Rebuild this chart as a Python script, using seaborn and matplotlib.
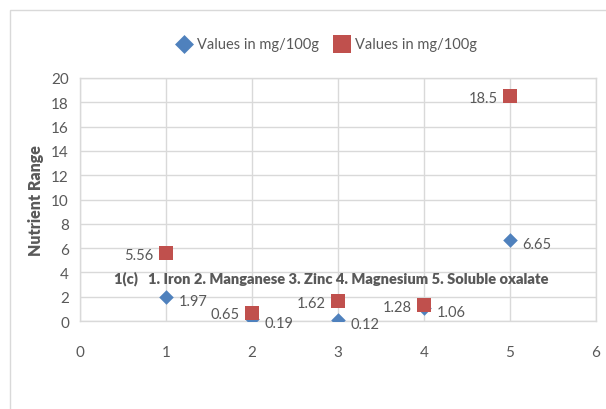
import matplotlib
matplotlib.use("Agg")
import matplotlib.pyplot as plt
import seaborn as sns
import pandas as pd
from matplotlib.patches import Rectangle

x_vals = [1, 2, 3, 4, 5]
series1 = [1.97, 0.19, 0.12, 1.06, 6.65]
series2 = [5.56, 0.65, 1.62, 1.28, 18.5]
series_names = ["Values in mg/100g", "Values in mg/100g"]
title_text = "1(c)   1. Iron 2. Manganese 3. Zinc 4. Magnesium 5. Soluble oxalate"
y_label = "Nutrient Range"
x_ticks = [0, 1, 2, 3, 4, 5, 6]
y_ticks = list(range(0, 21, 2))

sns.set_theme(style="white")
plt.rcParams['font.family'] = ['Lato', 'DejaVu Sans']

grey = "#595959"
blue = "#4F81BD"
red = "#C0504D"

fig = plt.figure(figsize=(6.06, 4.10), dpi=100)
ax = fig.add_axes([80/606, 1-322/410, 516/606, 243/410])

# chart border
fig.patches.append(Rectangle((10/606, -0.1), 1.2, 1-11/410+0.1, transform=fig.transFigure,
                             fill=False, edgecolor="#D9D9D9", linewidth=1.0, zorder=0))

df1 = pd.DataFrame({"x": x_vals, "y": series1})
df2 = pd.DataFrame({"x": x_vals, "y": series2})
sns.scatterplot(data=df1, x="x", y="y", ax=ax, marker="D", s=55, color=blue,
                edgecolor=blue, linewidth=0, label=series_names[0], zorder=3)
sns.scatterplot(data=df2, x="x", y="y", ax=ax, marker="s", s=95, color=red,
                edgecolor=red, linewidth=0, label=series_names[1], zorder=3)

for xv, yv in zip(x_vals, series1):
    ax.annotate(f"{yv:g}", (xv, yv), xytext=(9, -3), textcoords="offset points",
                ha="left", va="center", fontsize=10.5, color=grey)
for xv, yv in zip(x_vals, series2):
    ax.annotate(f"{yv:g}", (xv, yv), xytext=(-9, -1), textcoords="offset points",
                ha="right", va="center", fontsize=10.5, color=grey)

ax.set_xlim(0, 6)
ax.set_ylim(0, 20)
ax.set_xticks(x_ticks)
ax.set_yticks(y_ticks)
ax.grid(True, color="#D9D9D9", linewidth=1.0)
ax.set_axisbelow(True)
for sp in ax.spines.values():
    sp.set_color("#D9D9D9")
    sp.set_linewidth(1.0)
ax.tick_params(axis="both", length=0, labelsize=11, labelcolor=grey)
ax.tick_params(axis="x", pad=17)
ax.tick_params(axis="y", pad=8)
ax.set_xlabel("")
ax.set_ylabel(y_label, fontsize=11.5, fontweight="heavy", color=grey, labelpad=5)

ax.text(2.92, 3.6, title_text, ha="center", va="center", fontsize=10.5,
        fontweight="heavy", color=grey)

leg = ax.legend(loc="center", bbox_to_anchor=(326/606, 1-45/410), bbox_transform=fig.transFigure,
                ncol=2, frameon=False, fontsize=10.5, handletextpad=0.3, columnspacing=1.0,
                markerscale=1.3, handlelength=1.2)
for t in leg.get_texts():
    t.set_color(grey)

fig.savefig("out.png", dpi=100)
